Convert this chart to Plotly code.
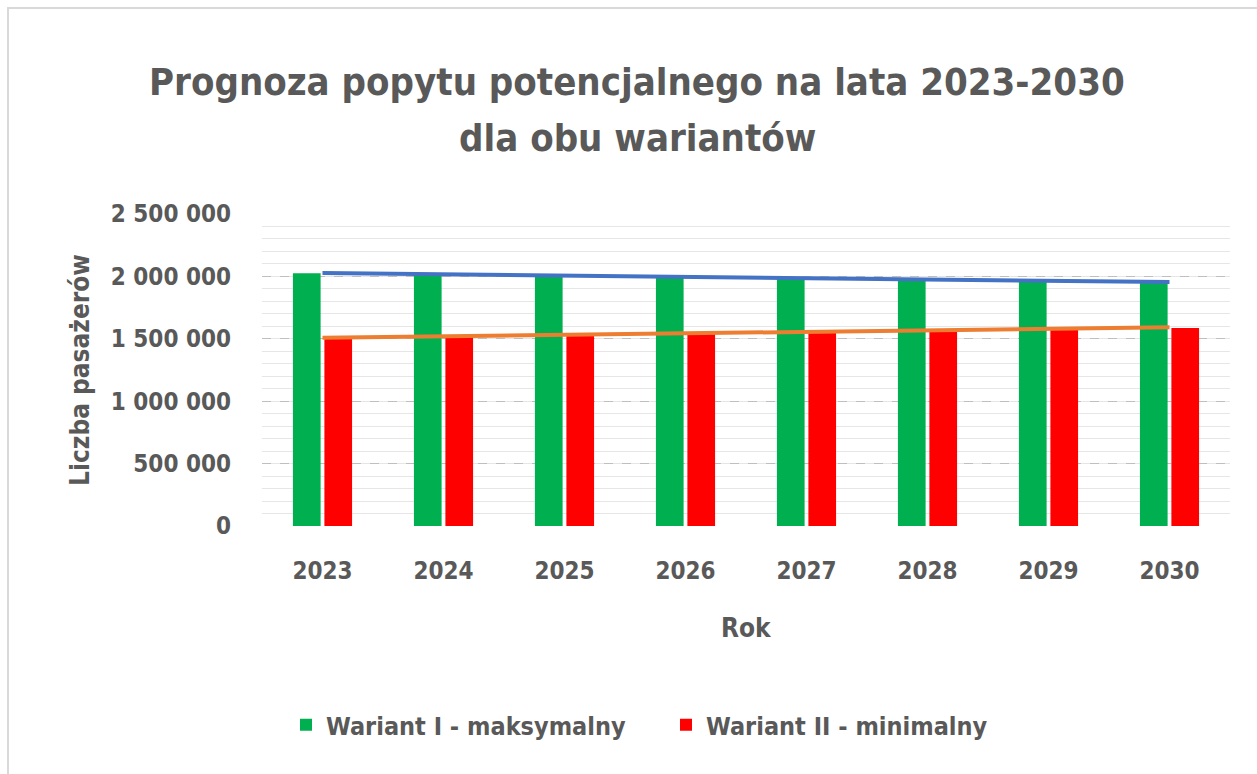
import numpy as np
import plotly.graph_objects as go

# Forecast of potential passenger demand, 2023-2030
years = ["2023", "2024", "2025", "2026", "2027", "2028", "2029", "2030"]
wariant_max = [2026000, 2016000, 2006000, 1996000, 1986000, 1975000, 1965000, 1955000]
wariant_min = [1505000, 1520000, 1532000, 1545000, 1557000, 1570000, 1582000, 1587000]

y_ticks = [0, 500000, 1000000, 1500000, 2000000, 2500000]

title_lines = ["Prognoza popytu potencjalnego na lata 2023-2030", "dla obu wariantów"]

FONT = "DejaVu Sans Condensed, DejaVu Sans, sans-serif"
TXT = "#595959"

W, H = 1257, 774
L, R, T, B = 262, 27, 214, 248


def linear_trend(values):
    idx = np.arange(len(values))
    slope, intercept = np.polyfit(idx, values, 1)
    return list(intercept + slope * idx)


fig = go.Figure()
fig.add_trace(go.Bar(x=years, y=wariant_max, name="Wariant I - maksymalny",
                     marker=dict(color="#00B050", line=dict(width=0))))
fig.add_trace(go.Bar(x=years, y=wariant_min, name="Wariant II - minimalny",
                     marker=dict(color="#FF0000", line=dict(width=0))))
fig.add_trace(go.Scatter(x=years, y=linear_trend(wariant_max), mode="lines",
                         line=dict(color="#4472C4", width=4), showlegend=False,
                         hoverinfo="skip"))
fig.add_trace(go.Scatter(x=years, y=linear_trend(wariant_min), mode="lines",
                         line=dict(color="#ED7D31", width=4), showlegend=False,
                         hoverinfo="skip"))

plot_w = W - L - R
plot_h = H - T - B


def px_x(p):
    return (p - L) / plot_w


def px_y(p):
    return (H - B - p) / plot_h


def label(text, x, y, size, angle=0):
    return dict(text=text, xref="paper", yref="paper", x=px_x(x), y=px_y(y),
                showarrow=False, xanchor="center", yanchor="middle",
                textangle=angle,
                font=dict(family=FONT, size=size, color=TXT, weight="bold"))


fig.update_layout(
    width=W, height=H,
    margin=dict(l=L, r=R, t=T, b=B, autoexpand=False),
    paper_bgcolor="white", plot_bgcolor="white",
    separators=", ",
    barmode="group", bargap=0.48, bargroupgap=0.12,
    font=dict(family=FONT, color=TXT, size=24, weight="bold"),
    xaxis=dict(type="category", showgrid=False, showline=False, zeroline=False,
               ticks="", ticklabelstandoff=28,
               tickfont=dict(family=FONT, size=24, color=TXT, weight="bold")),
    yaxis=dict(range=[0, 2500000], tickvals=y_ticks, tickformat=",d",
               showgrid=True, gridcolor="#BFBFBF", gridwidth=1, griddash="dash",
               zeroline=False, showline=False, ticks="", ticklabelstandoff=30,
               tickfont=dict(family=FONT, size=24, color=TXT, weight="bold"),
               minor=dict(dtick=100000, showgrid=True, gridcolor="#E6E6E6",
                          gridwidth=1, griddash="solid")),
    legend=dict(orientation="h", xref="container", yref="container",
                x=286 / W, xanchor="left", y=1 - 725 / H, yanchor="middle",
                font=dict(family=FONT, size=25, color=TXT, weight="bold"),
                itemsizing="constant", traceorder="normal", itemwidth=30,
                entrywidth=335, entrywidthmode="pixels"),
    showlegend=True,
    annotations=[
        label(title_lines[0], 637, 82, 38),
        label(title_lines[1], 637, 138, 38),
        label("Rok", 746, 628, 26),
        label("Liczba pasażerów", 80, 370, 26, angle=-90),
    ],
    shapes=[
        dict(type="rect", xref="paper", yref="paper", layer="below",
             x0=px_x(8), x1=px_x(W + 10), y0=px_y(H + 10), y1=px_y(8),
             line=dict(color="#D9D9D9", width=2), fillcolor="rgba(0,0,0,0)"),
    ],
)

fig.write_html("out.html")
